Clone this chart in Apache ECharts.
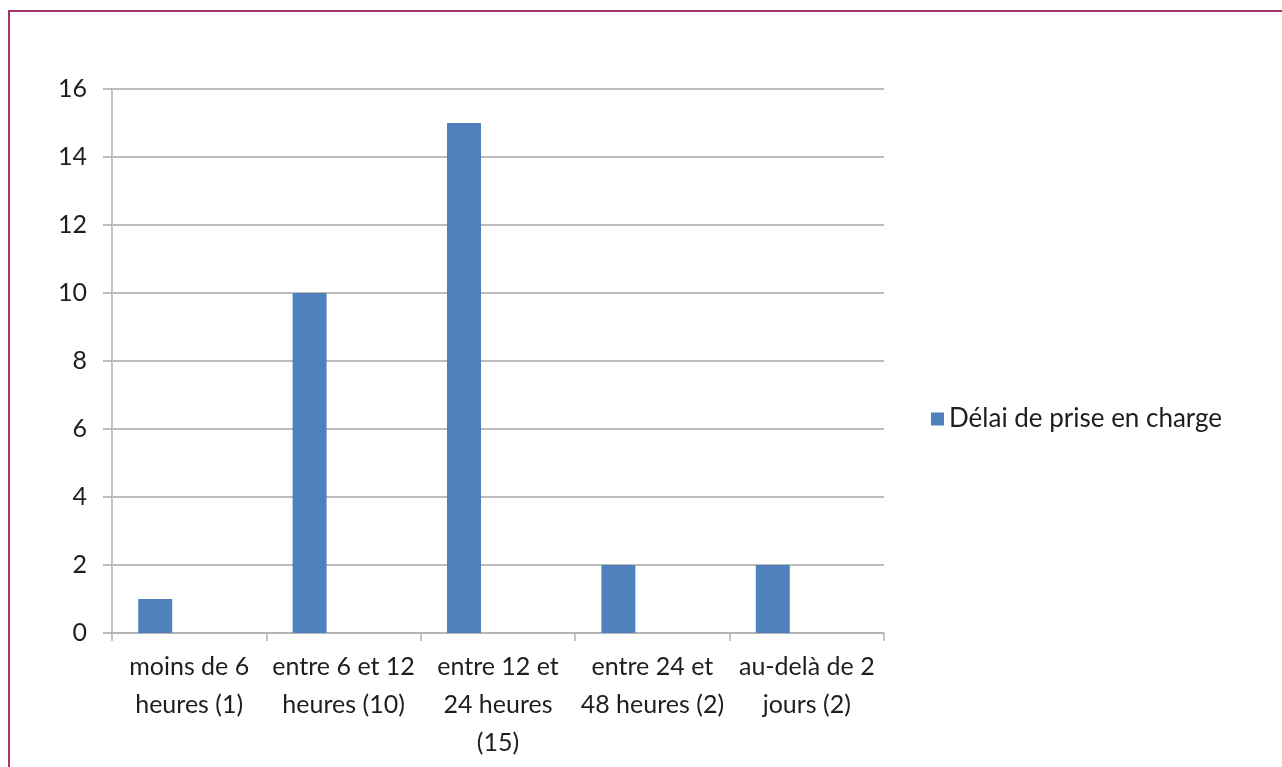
<!DOCTYPE html>
<html>
<head>
<meta charset="utf-8">
<title>Délai de prise en charge</title>
<script src="https://cdn.jsdelivr.net/npm/echarts@6/dist/echarts.min.js"></script>
<style>
  html, body { margin: 0; padding: 0; background: #ffffff; }
  #frame {
    position: absolute; left: 8px; top: 10px; width: 1274px; height: 757px;
    border-top: 2px solid #a8346f; border-left: 2px solid #a8346f;
    box-sizing: border-box;
  }
  #chart { position: absolute; left: 0; top: 0; width: 1282px; height: 767px; }
</style>
</head>
<body>
<div id="frame"></div>
<div id="chart"></div>
<script>
// Categories (x axis tick labels, wrapped on two or three lines)
const categories = [
  'moins de 6\nheures (1)',
  'entre 6 et 12\nheures (10)',
  'entre 12 et\n24 heures\n(15)',
  'entre 24 et\n48 heures (2)',
  'au-delà de 2\njours (2)'
];
// Number of cases per delay
const seriesName = 'Délai de prise en charge';
const delayValues = [1, 10, 15, 2, 2];
// Second, empty slot of the chart (keeps the bars on the left of each category)
const emptyValues = [null, null, null, null, null];
// Y axis ticks
const yTicks = [0, 2, 4, 6, 8, 10, 12, 14, 16];

const textColor = '#1e1e1e';
const fontFamily = 'Lato, "Open Sans", sans-serif';
const fontSize = 25;

const chart = echarts.init(document.getElementById('chart'), null, { renderer: 'canvas' });
chart.setOption({
  animation: false,
  backgroundColor: 'transparent',
  grid: { left: 112, right: 398, top: 89, bottom: 134, containLabel: false },
  legend: {
    data: [seriesName],
    orient: 'vertical',
    left: 926,
    top: 401,
    itemWidth: 13,
    itemHeight: 13,
    itemGap: 8,
    icon: 'rect',
    textStyle: { color: textColor, fontSize: 26, fontFamily: fontFamily }
  },
  xAxis: {
    type: 'category',
    data: categories,
    axisLine: { show: true, lineStyle: { color: '#b3b3b3', width: 1.5 } },
    axisTick: { show: true, length: 8, alignWithLabel: false, lineStyle: { color: '#b3b3b3', width: 1.5 } },
    axisLabel: {
      interval: 0, margin: 15, color: textColor, fontSize: fontSize,
      fontFamily: fontFamily, lineHeight: 38, align: 'center'
    },
    splitLine: { show: false }
  },
  yAxis: {
    type: 'value',
    min: yTicks[0],
    max: yTicks[yTicks.length - 1],
    interval: yTicks[1] - yTicks[0],
    axisLine: { show: true, lineStyle: { color: '#c4c4c4', width: 2 } },
    axisTick: { show: true, length: 9, lineStyle: { color: '#a6a6a6', width: 1.5 } },
    axisLabel: { margin: 25, color: textColor, fontSize: fontSize, fontFamily: fontFamily },
    splitLine: { show: true, lineStyle: { color: '#a6a6a6', width: 1.5 } }
  },
  series: [
    {
      name: seriesName,
      type: 'bar',
      data: delayValues,
      barWidth: 34,
      barGap: '100%',
      itemStyle: { color: '#4f81bd' }
    },
    {
      name: '',
      type: 'bar',
      data: emptyValues,
      barWidth: 34,
      itemStyle: { color: '#c0504d' }
    }
  ]
});
</script>
</body>
</html>
